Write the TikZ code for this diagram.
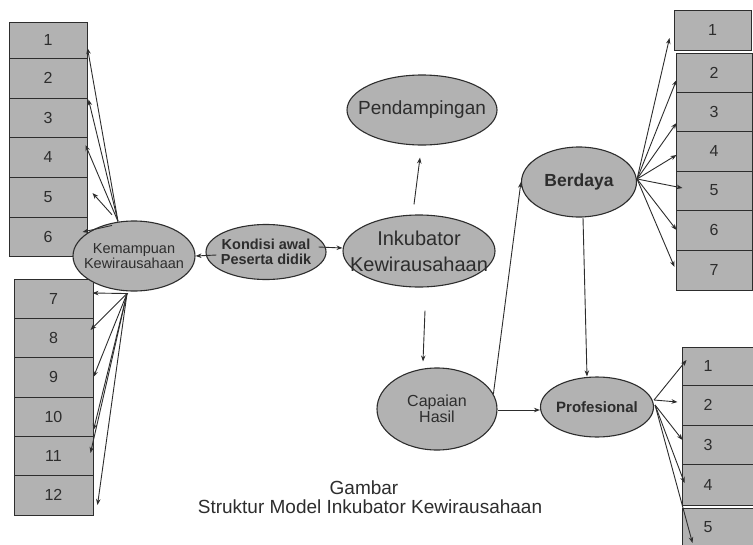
\documentclass[tikz,border=0pt]{standalone}
\usepackage{fontspec}
\setmainfont{Liberation Sans}
\usetikzlibrary{shapes.geometric,arrows.meta}
\definecolor{shade}{RGB}{178,178,178}
\definecolor{ink}{RGB}{45,45,45}
\begin{document}
\begin{tikzpicture}[x=1pt,y=-1pt,
  box/.style={draw=ink, line width=1pt, fill=shade, rectangle, inner sep=0pt, text=ink, font=\fontsize{16}{16}\selectfont},
  ell/.style={draw=ink, line width=1.1pt, fill=shade, ellipse, inner sep=0pt},
  elltxt/.style={text=ink, align=center, inner sep=0pt},
  numtxt/.style={text=ink, inner sep=0pt, font=\fontsize{16}{16}\selectfont},
  arr/.style={draw=ink, line width=0.9pt, -{Stealth[length=6pt,width=4.5pt]}},
  captxt/.style={text=ink, inner sep=0pt, font=\fontsize{19}{19}\selectfont}]
\useasboundingbox (0,0) rectangle (753,544);
\fill[white] (0,0) rectangle (753,544);
\clip (0,0) rectangle (753,544);

% left top boxes
\node[box, minimum width=78pt, minimum height=36pt] (L1) at (48,40) {1};
\node[box, minimum width=78pt, minimum height=40pt] (L2) at (48,78) {2};
\node[box, minimum width=78pt, minimum height=39pt] (L3) at (48,117.5) {3};
\node[box, minimum width=78pt, minimum height=40pt] (L4) at (48,157) {4};
\node[box, minimum width=78pt, minimum height=40pt] (L5) at (48,197) {5};
\node[box, minimum width=78pt, minimum height=39pt] (L6) at (48,236.5) {6};
% left bottom boxes
\node[box, minimum width=79pt, minimum height=39pt] (L7) at (53.5,298.5) {7};
\node[box, minimum width=79pt, minimum height=39pt] (L8) at (53.5,337.5) {8};
\node[box, minimum width=79pt, minimum height=40pt] (L9) at (53.5,377) {9};
\node[box, minimum width=79pt, minimum height=39pt] (L10) at (53.5,416.5) {10};
\node[box, minimum width=79pt, minimum height=39pt] (L11) at (53.5,455.5) {11};
\node[box, minimum width=79pt, minimum height=40pt] (L12) at (53.5,495) {12};
% right top boxes
\node[box, minimum width=77pt, minimum height=40pt] (R1) at (712.5,30) {1};
\node[box, minimum width=76pt, minimum height=39pt] (R2) at (714,72.5) {2};
\node[box, minimum width=76pt, minimum height=39pt] (R3) at (714,111.5) {3};
\node[box, minimum width=76pt, minimum height=40pt] (R4) at (714,151) {4};
\node[box, minimum width=76pt, minimum height=39pt] (R5) at (714,190.5) {5};
\node[box, minimum width=76pt, minimum height=40pt] (R6) at (714,230) {6};
\node[box, minimum width=76pt, minimum height=40pt] (R7) at (714,270) {7};
% right bottom boxes
\node[box, minimum width=80pt, minimum height=38pt] (P1) at (722,366) {};
\node[box, minimum width=80pt, minimum height=40pt] (P2) at (722,405) {};
\node[box, minimum width=80pt, minimum height=39pt] (P3) at (722,444.5) {};
\node[box, minimum width=80pt, minimum height=41pt] (P4) at (722,484.5) {};
\node[box, minimum width=80pt, minimum height=52pt] (P5) at (722,534) {};
\node[numtxt] (P1t) at (708,366) {1};
\node[numtxt] (P2t) at (708,405) {2};
\node[numtxt] (P3t) at (708,444.5) {3};
\node[numtxt] (P4t) at (708,484.5) {4};
\node[numtxt] (P5t) at (708,527) {5};

% ellipses
\node[ell, minimum width=150pt, minimum height=70pt,
  label={[elltxt, font=\fontsize{19}{22}\selectfont]center:Pendampingan}] (Pend) at (422,110) {};
\node[ell, minimum width=152pt, minimum height=72pt,
  label={[elltxt, font=\fontsize{20}{26}\selectfont]center:Inkubator\\Kewirausahaan}] (Inkub) at (419,251) {};
\node[ell, minimum width=120pt, minimum height=55pt,
  label={[elltxt, font=\fontsize{14.5}{15}\selectfont\bfseries]center:Kondisi awal\\Peserta didik}] (Kond) at (266,252) {};
\node[ell, minimum width=122pt, minimum height=70pt,
  label={[elltxt, font=\fontsize{14.5}{15}\selectfont]center:Kemampuan\\Kewirausahaan}] (Kemamp) at (134,256) {};
\node[ell, minimum width=120pt, minimum height=82pt,
  label={[elltxt, font=\fontsize{16}{16}\selectfont]center:Capaian\\Hasil}] (Capaian) at (437,409) {};
\node[ell, minimum width=113pt, minimum height=60pt,
  label={[elltxt, font=\fontsize{15}{15}\selectfont\bfseries]center:Profesional}] (Prof) at (597,407) {};
\node[ell, minimum width=115pt, minimum height=70pt,
  label={[elltxt, font=\fontsize{17.5}{18}\selectfont\bfseries]center:Berdaya}] (Berdaya) at (579,182) {};

% helper coordinates
\coordinate (KT) at ([xshift=-16pt,yshift=-1pt]Kemamp.north);
\coordinate (KB) at ([xshift=-7pt,yshift=-2pt]Kemamp.south);
\coordinate (BE) at ([yshift=3pt]Berdaya.east);
\coordinate (PEa) at ([yshift=7pt]Prof.east);
\coordinate (PEb) at ([xshift=1pt,yshift=2pt]Prof.east);

% left top fan
\draw[arr] (KT) -- ([yshift=-8pt]L1.east);
\draw[arr] (KT) -- ([xshift=1pt,yshift=-2pt]L3.north east);
\draw[arr] (KT) -- ([xshift=-2pt,yshift=12pt]L4.east);
\draw[arr, shorten <=9pt] (KT) -- ([xshift=5pt,yshift=4pt]L5.east);
\draw[arr] ([xshift=-6pt,yshift=-4pt]KT) -- ([xshift=-5pt,yshift=4.5pt]L6.east);
% left bottom fan
\draw[arr] ([xshift=1pt]KB) -- ([xshift=-1pt,yshift=5.5pt]L7.east);
\draw[arr] (KB) -- ([xshift=-3pt,yshift=7.5pt]L8.east);
\draw[arr] (KB) -- (L9.east);
\draw[arr] (KB) -- ([yshift=-13.5pt]L10.east);
\draw[arr] (KB) -- ([xshift=-3pt,yshift=2.5pt]L11.east);
\draw[arr] (KB) -- ([xshift=4pt,yshift=-10pt]L12.east);
% right top fan
\draw[arr] (BE) -- ([xshift=-4pt,yshift=-8pt]R1.west);
\draw[arr] (BE) -- ([xshift=1pt,yshift=-7.5pt]R2.west);
\draw[arr] (BE) -- ([xshift=1pt,yshift=-11.5pt]R3.west);
\draw[arr] (BE) -- ([xshift=1pt,yshift=-4pt]R4.west);
\draw[arr] (BE) -- ([xshift=7pt,yshift=2.5pt]R5.west);
\draw[arr] (BE) -- ([xshift=1pt]R6.west);
\draw[arr] (BE) -- ([xshift=-1pt,yshift=3pt]R7.west);
% right bottom fan
\draw[arr] (PEa) -- ([xshift=5pt,yshift=6pt]P1.west);
\draw[arr] (PEa) -- ([xshift=-4pt,yshift=3pt]P2.west);
\draw[arr] (PEb) -- ([xshift=1pt,yshift=4.5pt]P3.west);
\draw[arr] (PEb) -- ([xshift=3pt,yshift=1.5pt]P4.west);
\draw[arr] (PEb) -- ([xshift=11pt,yshift=-9pt]P5.west);

% central connectors
\draw[arr] ([xshift=11pt,yshift=-3pt]Kond.west) -- (Kemamp.east);
\draw[arr] ([xshift=-8pt,yshift=5pt]Kond.east) -- ([yshift=3pt]Inkub.west);
\draw[arr] ([xshift=-5pt,yshift=10pt]Inkub.north) -- ([xshift=-2pt,yshift=-12pt]Pend.south);
\draw[arr] ([xshift=6pt,yshift=-23pt]Inkub.south) -- ([xshift=-14pt,yshift=6pt]Capaian.north);
\draw[arr] ([yshift=-1pt]Capaian.east) -- ([yshift=-3pt]Prof.west);
\draw[arr] (Capaian.15) -- (Berdaya.west);
\draw[arr] ([xshift=4pt]Berdaya.south) -- ([xshift=-10pt]Prof.north);

% caption
\node[captxt] (cap1) at (364,488) {Gambar};
\node[captxt] (cap2) at (370,507) {Struktur Model Inkubator Kewirausahaan};
\end{tikzpicture}
\end{document}
